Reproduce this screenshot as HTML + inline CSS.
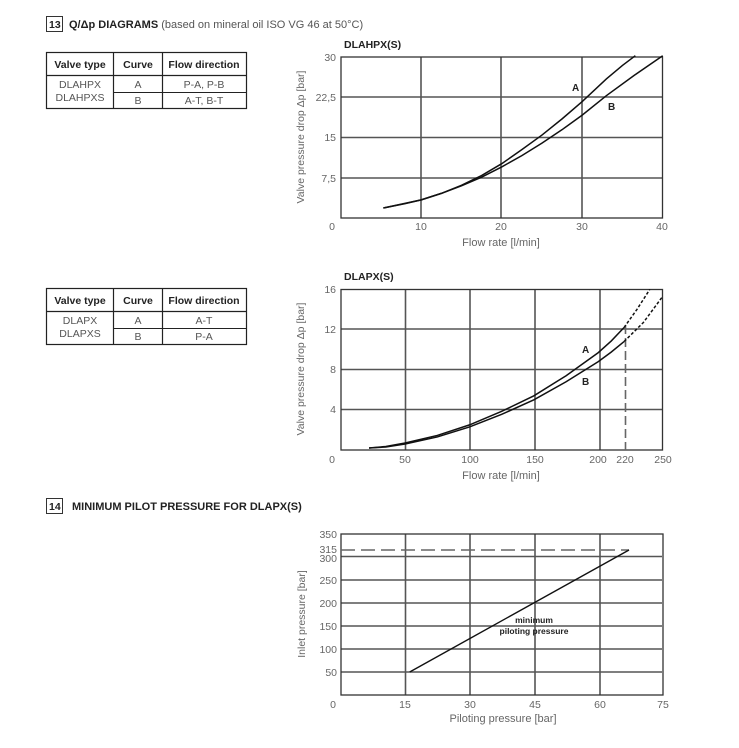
<!DOCTYPE html>
<html><head><meta charset="utf-8"><style>
html,body{margin:0;padding:0;background:#fff;}
svg{display:block;font-family:"Liberation Sans",Arial,sans-serif;}
.g{stroke:#555;stroke-width:1.6;}
.t{font-size:10.5px;fill:#666;}
.b{font-weight:bold;fill:#222;}
.c{fill:none;stroke:#111;stroke-width:1.5;vector-effect:non-scaling-stroke;}
</style></head><body>
<svg width="739" height="748" viewBox="0 0 739 748">
<!-- header 13 -->
<rect x="46.5" y="16.5" width="16" height="15" fill="none" stroke="#333"/>
<text x="49" y="28" font-size="10.5" class="b">13</text>
<text x="69" y="28" font-size="11" fill="#222"><tspan font-weight="bold">Q/Δp DIAGRAMS</tspan><tspan fill="#555"> (based on mineral oil ISO VG 46 at 50°C)</tspan></text>

<!-- table 1 -->
<g stroke="#222" stroke-width="1.2" fill="none">
<rect x="46.5" y="52.5" width="200" height="56"/>
<line x1="46" y1="75.5" x2="246" y2="75.5"/>
<line x1="113.5" y1="52" x2="113.5" y2="109"/>
<line x1="162.5" y1="52" x2="162.5" y2="109"/>
<line x1="113" y1="92.5" x2="246" y2="92.5" stroke-width="0.9"/>
</g>
<g font-size="10.5" text-anchor="middle">
<text x="80" y="68" class="b">Valve type</text><text x="138" y="68" class="b">Curve</text><text x="204" y="68" class="b">Flow direction</text>
<text x="80" y="88" fill="#555">DLAHPX</text><text x="80" y="101" fill="#555">DLAHPXS</text>
<text x="138" y="88" fill="#555">A</text><text x="138" y="104" fill="#555">B</text>
<text x="204" y="88" fill="#555">P-A, P-B</text><text x="204" y="104" fill="#555">A-T, B-T</text>
</g>

<!-- table 2 -->
<g stroke="#222" stroke-width="1.2" fill="none">
<rect x="46.5" y="288.5" width="200" height="56"/>
<line x1="46" y1="311.5" x2="246" y2="311.5"/>
<line x1="113.5" y1="288" x2="113.5" y2="345"/>
<line x1="162.5" y1="288" x2="162.5" y2="345"/>
<line x1="113" y1="328.5" x2="246" y2="328.5" stroke-width="0.9"/>
</g>
<g font-size="10.5" text-anchor="middle">
<text x="80" y="304" class="b">Valve type</text><text x="138" y="304" class="b">Curve</text><text x="204" y="304" class="b">Flow direction</text>
<text x="80" y="324" fill="#555">DLAPX</text><text x="80" y="337" fill="#555">DLAPXS</text>
<text x="138" y="324" fill="#555">A</text><text x="138" y="340" fill="#555">B</text>
<text x="204" y="324" fill="#555">A-T</text><text x="204" y="340" fill="#555">P-A</text>
</g>

<!-- chart 1 -->
<text x="344" y="48" font-size="10.5" class="b">DLAHPX(S)</text>
<g class="g">
<line x1="421" y1="57" x2="421" y2="218"/><line x1="501" y1="57" x2="501" y2="218"/><line x1="582" y1="57" x2="582" y2="218"/>
<line x1="341" y1="97" x2="662" y2="97"/><line x1="341" y1="137.5" x2="662" y2="137.5"/><line x1="341" y1="178" x2="662" y2="178"/>
</g>
<rect x="341" y="57" width="321.5" height="161" fill="none" stroke="#333" stroke-width="1.3"/>
<g class="t" text-anchor="end">
<text x="336" y="61">30</text><text x="336" y="101">22,5</text><text x="336" y="141">15</text><text x="336" y="182">7,5</text>
</g>
<g class="t" text-anchor="middle">
<text x="332" y="230">0</text><text x="421" y="230">10</text><text x="501" y="230">20</text><text x="582" y="230">30</text><text x="662" y="230">40</text>
<text x="501" y="246" font-size="11">Flow rate [l/min]</text>
</g>
<text transform="translate(304,137) rotate(-90)" class="t" font-size="11" text-anchor="middle">Valve pressure drop Δp [bar]</text>
<g transform="translate(340.7,217.7) scale(8.05,-5.4)">
<polyline class="c" points="5.3,1.8 8,2.6 10,3.3 12.5,4.5 15,6 17.5,7.8 20,10 22.5,12.6 25,15.3 27.5,18.3 30,21.5 33,25.7 35,28.2 36.6,30"/>
<polyline class="c" points="5.3,1.8 10,3.3 12.5,4.5 15,5.9 17.5,7.5 20,9.4 22.5,11.5 25,13.8 27.5,16.3 30,19 33,22.6 36.5,26.4 40,30"/>
</g>
<text x="572" y="91" font-size="10" class="b">A</text>
<text x="608" y="110" font-size="10" class="b">B</text>

<!-- chart 2 -->
<text x="344" y="280" font-size="10.5" class="b">DLAPX(S)</text>
<g class="g">
<line x1="405.5" y1="289" x2="405.5" y2="450"/><line x1="470" y1="289" x2="470" y2="450"/><line x1="535" y1="289" x2="535" y2="450"/><line x1="600" y1="289" x2="600" y2="450"/>
<line x1="341" y1="329" x2="662" y2="329"/><line x1="341" y1="369.5" x2="662" y2="369.5"/><line x1="341" y1="409.5" x2="662" y2="409.5"/>
</g>
<rect x="341" y="289.5" width="321.5" height="160.5" fill="none" stroke="#333" stroke-width="1.3"/>
<line x1="625.5" y1="325" x2="625.5" y2="450" stroke="#666" stroke-width="1.6" stroke-dasharray="9,4"/>
<g class="t" text-anchor="end">
<text x="336" y="293">16</text><text x="336" y="333">12</text><text x="336" y="373">8</text><text x="336" y="413">4</text>
</g>
<g class="t" text-anchor="middle">
<text x="332" y="463">0</text><text x="405" y="463">50</text><text x="470" y="463">100</text><text x="535" y="463">150</text><text x="598" y="463">200</text><text x="625" y="463">220</text><text x="663" y="463">250</text>
<text x="501" y="479" font-size="11">Flow rate [l/min]</text>
</g>
<text transform="translate(304,369) rotate(-90)" class="t" font-size="11" text-anchor="middle">Valve pressure drop Δp [bar]</text>
<g transform="translate(340.7,450) scale(1.288,-10.04)">
<polyline class="c" points="22,0.2 35,0.35 50,0.7 75,1.45 100,2.5 125,3.85 150,5.4 175,7.4 200,9.7 210,10.85 220,12.2"/>
<polyline class="c" points="22,0.2 35,0.3 50,0.6 75,1.3 100,2.3 125,3.55 150,5 175,6.8 200,8.8 210,9.75 220,10.8"/>
<polyline class="c" points="220,12.2 230,14 240,16" stroke-dasharray="3,2"/>
<polyline class="c" points="220,10.8 235,12.7 250,15.3" stroke-dasharray="3,2"/>
</g>
<text x="582" y="353" font-size="10" class="b">A</text>
<text x="582" y="385" font-size="10" class="b">B</text>

<!-- header 14 -->
<rect x="46.5" y="498.5" width="16" height="15" fill="none" stroke="#333"/>
<text x="49" y="510" font-size="10.5" class="b">14</text>
<text x="72" y="510" font-size="11" class="b">MINIMUM PILOT PRESSURE FOR DLAPX(S)</text>

<!-- chart 3 -->
<g class="g">
<line x1="405.5" y1="534" x2="405.5" y2="695"/><line x1="470" y1="534" x2="470" y2="695"/><line x1="535" y1="534" x2="535" y2="695"/><line x1="600" y1="534" x2="600" y2="695"/>
<line x1="341" y1="556.5" x2="662" y2="556.5"/><line x1="341" y1="580" x2="662" y2="580"/><line x1="341" y1="603" x2="662" y2="603"/><line x1="341" y1="626" x2="662" y2="626"/><line x1="341" y1="649" x2="662" y2="649"/><line x1="341" y1="672" x2="662" y2="672"/>
</g>
<rect x="341" y="534" width="322" height="161" fill="none" stroke="#333" stroke-width="1.3"/>
<line x1="341" y1="550" x2="629" y2="550" stroke="#666" stroke-width="1.5" stroke-dasharray="14,6"/>
<line x1="409.7" y1="672" x2="629" y2="550" stroke="#111" stroke-width="1.4"/>
<g class="t" text-anchor="end">
<text x="337" y="538">350</text><text x="337" y="553">315</text><text x="337" y="562">300</text><text x="337" y="584">250</text><text x="337" y="607">200</text><text x="337" y="630">150</text><text x="337" y="653">100</text><text x="337" y="676">50</text>
</g>
<g class="t" text-anchor="middle">
<text x="333" y="708">0</text><text x="405" y="708">15</text><text x="470" y="708">30</text><text x="535" y="708">45</text><text x="600" y="708">60</text><text x="663" y="708">75</text>
<text x="503" y="722" font-size="11">Piloting pressure [bar]</text>
</g>
<text transform="translate(305,614) rotate(-90)" class="t" font-size="11" text-anchor="middle">Inlet pressure [bar]</text>
<text x="534" y="623" font-size="8.5" class="b" text-anchor="middle">minimum</text>
<text x="534" y="634" font-size="8.5" class="b" text-anchor="middle">piloting pressure</text>
</svg>
</body></html>
